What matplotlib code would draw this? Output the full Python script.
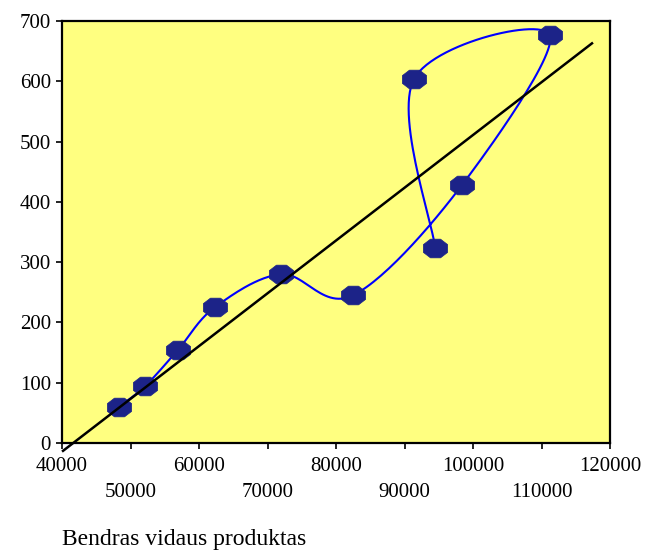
import numpy as np
import matplotlib
matplotlib.use("Agg")
from matplotlib import pyplot as plt
from matplotlib.path import Path
from matplotlib.ticker import MultipleLocator, FixedLocator

# data (in the order the line goes through them)
gdp = [48300, 52100, 56900, 62300, 72000, 82500, 98400, 111200, 91400, 94500]
vals = [60, 94, 154, 225, 280, 245, 428, 677, 604, 323]

# trend line: y = slope * x + intercept
trend_slope = 0.008754
trend_intercept = -364.5
trend_x = [40150, 117370]

x_major = [40000, 60000, 80000, 100000, 120000]
x_minor = [50000, 70000, 90000, 110000]
xlabel = "Bendras vidaus produktas"


def smooth_line(ax, xs, ys, n=30):
    # excel-like smoothed line (bezier, catmull-rom style) in screen space
    pts = ax.transData.transform(np.column_stack([xs, ys]))
    p = np.vstack([pts[0], pts, pts[-1]])
    out = []
    for i in range(1, len(p) - 2):
        p0, p1, p2, p3 = p[i - 1], p[i], p[i + 1], p[i + 2]
        c1 = p1 + (p2 - p0) / 6.0
        c2 = p2 - (p3 - p1) / 6.0
        t = np.linspace(0, 1, n)[:, None]
        seg = ((1 - t) ** 3) * p1 + 3 * ((1 - t) ** 2) * t * c1 + 3 * (1 - t) * t ** 2 * c2 + t ** 3 * p2
        out.append(seg)
    out = np.vstack(out)
    return ax.transData.inverted().transform(out)


plt.rcParams['font.family'] = ['Liberation Serif', 'DejaVu Serif']

fig = plt.figure(figsize=(6.5, 5.55), dpi=100)
ax = fig.add_axes([62 / 650, 112 / 555, 548 / 650, 422 / 555])
ax.set_facecolor('#ffff80')
ax.set_xlim(40000, 120000)
ax.set_ylim(0, 700)

for s in ax.spines.values():
    s.set_linewidth(1.6)
    s.set_color('black')

# octagon, wider than tall
ang = np.pi / 8 + np.arange(8) * np.pi / 4
verts = np.column_stack([np.cos(ang) * 1.3, np.sin(ang)])
verts = np.vstack([verts, verts[0]])
octo = Path(verts, [Path.MOVETO] + [Path.LINETO] * 7 + [Path.CLOSEPOLY])

curve = smooth_line(ax, gdp, vals)
ax.plot(curve[:, 0], curve[:, 1], color='#0000ff', lw=1.5, zorder=2)
ax.plot(gdp, vals, ls='none', marker=octo, markersize=17.5,
        markerfacecolor='#1c2388', markeredgecolor='#1c2388', markeredgewidth=0.5, zorder=3)

tx = np.array(trend_x)
ax.plot(tx, trend_slope * tx + trend_intercept, color='black', lw=1.8, zorder=4, clip_on=False)

ax.xaxis.set_major_locator(FixedLocator(x_major))
ax.xaxis.set_minor_locator(FixedLocator(x_minor))
ax.set_xticklabels([str(v) for v in x_major])
ax.set_xticklabels([str(v) for v in x_minor], minor=True)
ax.tick_params(axis='x', which='major', length=4, width=1.2, pad=6, labelsize=15)
ax.tick_params(axis='x', which='minor', length=4, width=1.2, pad=25, labelsize=15)
ax.yaxis.set_major_locator(MultipleLocator(100))
ax.tick_params(axis='y', length=4, width=1.2, pad=4, labelsize=15)

fig.text(62 / 650, 1 - 540 / 555, xlabel, fontsize=17, ha='left', va='center')

fig.savefig('out.png', dpi=100)
